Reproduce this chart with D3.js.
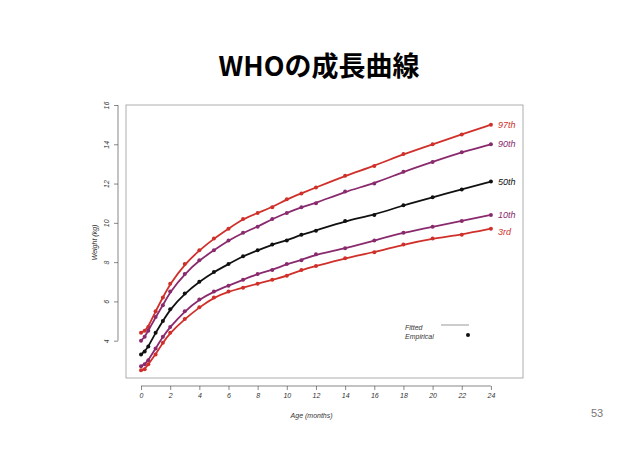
<!DOCTYPE html><html><head><meta charset="utf-8"><script src="https://cdn.jsdelivr.net/npm/d3@7"></script>
<style>body{margin:0;background:#fff}text{font-family:"Liberation Sans",Arial,sans-serif}</style></head><body><svg id="c" width="638" height="451"></svg>
<script>
const ages=[0,0.25,0.5,1,1.5,2,3,4,5,6,7,8,9,10,11,12,14,16,18,20,22,24];
const p97=[4.4,4.5,4.7,5.5,6.2,6.9,7.9,8.6,9.2,9.7,10.2,10.5,10.8,11.2,11.5,11.8,12.4,12.9,13.5,14.0,14.5,15.0];
const p90=[4.0,4.2,4.5,5.2,5.8,6.5,7.4,8.1,8.6,9.1,9.5,9.8,10.2,10.5,10.8,11.0,11.6,12.0,12.6,13.1,13.6,14.0];
const p50=[3.3,3.45,3.7,4.4,5.0,5.6,6.4,7.0,7.5,7.9,8.3,8.6,8.9,9.1,9.4,9.6,10.1,10.4,10.9,11.3,11.7,12.1];
const p10=[2.7,2.8,3.0,3.6,4.2,4.7,5.5,6.1,6.5,6.8,7.1,7.4,7.6,7.9,8.1,8.4,8.7,9.1,9.5,9.8,10.1,10.4];
const p3=[2.5,2.55,2.8,3.3,3.9,4.4,5.1,5.7,6.2,6.5,6.7,6.9,7.1,7.3,7.6,7.8,8.2,8.5,8.9,9.2,9.4,9.7];
const seriesNames=["97th","90th","50th","10th","3rd"];
const seriesVals=[p97,p90,p50,p10,p3];
const colors=["#d0302a","#8a2a6e","#111","#8a2a6e","#d0302a"];
const xTicks=d3.range(0,25,2), yTicks=[4,6,8,10,12,14,16];
const svg=d3.select("#c");
svg.append("text").attr("x",319).attr("y",76).attr("text-anchor","middle").attr("font-size",27).attr("font-weight","bold").style("font-family","Noto Sans CJK JP").text("WHOの成長曲線");
svg.append("text").attr("x",597).attr("y",417).attr("text-anchor","middle").attr("font-size",11).attr("fill","#777").text("53");
const x=d3.scaleLinear().domain([-1.03,26.2]).range([126,523]);
const y=d3.scaleLinear().domain([2.1,16]).range([378,105]);
svg.append("rect").attr("x",126).attr("y",105).attr("width",397).attr("height",273).attr("fill","none").attr("stroke","#999").attr("stroke-width",0.8);
const xa=svg.append("g").attr("transform","translate(0,386)").call(d3.axisBottom(x).tickValues(xTicks).tickSize(4));
const ya=svg.append("g").attr("transform","translate(118,0)").call(d3.axisLeft(y).tickValues(yTicks).tickSize(4));
[xa,ya].forEach(a=>{a.selectAll("path,line").attr("stroke","#555").attr("stroke-width",0.7);a.selectAll("text").attr("font-size",7).attr("font-style","italic").attr("fill","#333");});
xa.select(".domain").attr("d",`M${x(0)},0H${x(24)}`);
ya.select(".domain").attr("d",`M0,${y(4)}V${y(16)}`);
ya.selectAll(".tick text").attr("transform","rotate(-90)").attr("x",0).attr("dx",0).attr("y",-9).attr("dy","0").attr("text-anchor","middle");
svg.append("text").attr("x",x(11.7)).attr("y",418).attr("text-anchor","middle").attr("font-size",7).attr("font-style","italic").attr("fill","#333").text("Age (months)");
svg.append("text").attr("transform",`translate(97,${y(9)}) rotate(-90)`).attr("text-anchor","middle").attr("font-size",7).attr("font-style","italic").attr("fill","#333").text("Weight (kg)");
const line=d3.line().x((d,i)=>x(ages[i])).y(d=>y(d)).curve(d3.curveBasis);
const labY=[0,0,0,0,3];
seriesVals.forEach((vals,k)=>{
  svg.append("path").attr("d",line(vals)).attr("fill","none").attr("stroke",colors[k]).attr("stroke-width",1.8);
  svg.selectAll(null).data(vals).join("circle").attr("cx",(d,i)=>x(ages[i])).attr("cy",d=>y(d)).attr("r",2).attr("fill",colors[k]);
  svg.append("text").attr("x",x(24)+7).attr("y",y(vals[vals.length-1])+3+labY[k]).attr("font-size",9).attr("font-style","italic").attr("fill",colors[k]).text(seriesNames[k]);
});
svg.append("text").attr("x",405).attr("y",330).attr("font-size",7).attr("font-style","italic").attr("fill","#333").text("Fitted");
svg.append("text").attr("x",405).attr("y",339).attr("font-size",7).attr("font-style","italic").attr("fill","#333").text("Empirical");
svg.append("line").attr("x1",441).attr("x2",469).attr("y1",325).attr("y2",325).attr("stroke","#aaa").attr("stroke-width",1.2);
svg.append("circle").attr("cx",468).attr("cy",335).attr("r",2).attr("fill","#111");
</script></body></html>
